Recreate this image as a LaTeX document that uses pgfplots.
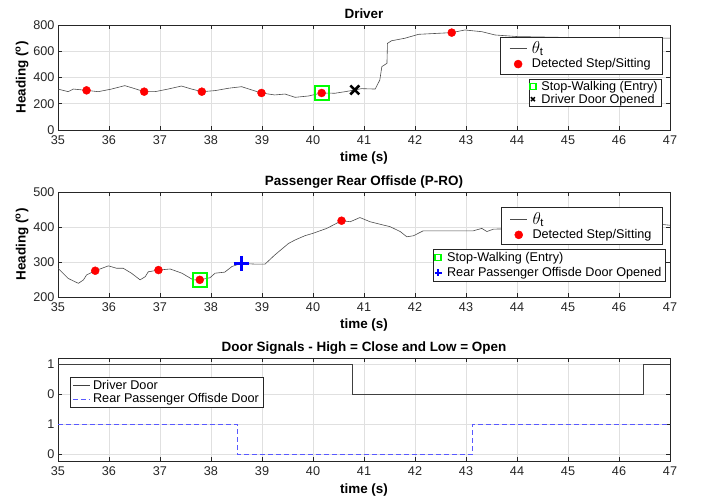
\documentclass[border=0pt]{standalone}
\usepackage{fontspec}
\setmainfont{Liberation Sans}
\usepackage{amsmath}
\usepackage{pgfplots}
\pgfplotsset{compat=1.18}
\definecolor{curve}{rgb}{0.3,0.3,0.3}
\definecolor{axcol}{rgb}{0.15,0.15,0.15}
\definecolor{gridcol}{rgb}{0.88,0.88,0.88}
\definecolor{mgreen}{rgb}{0,1,0}
\definecolor{dashblue}{rgb}{0.35,0.35,1}
\pgfplotsset{
  base/.style={
    scale only axis, width=612bp, height=105bp,
    anchor=south west,
    xmin=35, xmax=47, xtick={35,...,47},
    grid=major, major grid style={gridcol, line width=0.5bp},
    axis line style={axcol, line width=0.6bp},
    tick style={axcol, line width=0.6bp},
    major tick length=4bp,
    tick align=inside,
    tick label style={font=\fontsize{12.7}{14}\selectfont, color=axcol},
    /pgf/number format/assume math mode=true,
    xticklabel style={yshift=-2bp},
    label style={font=\bfseries\fontsize{13.5}{15}\selectfont},
    title style={font=\bfseries\fontsize{13.5}{15}\selectfont, at={(0.5,1)}, anchor=base, yshift=1bp},
    xlabel={time (s)},
    xlabel style={at={(axis description cs:0.5,0)}, anchor=base, yshift=-32bp},
    ylabel style={at={(axis description cs:-0.0588,0.5)}, anchor=center},
    legend style={font=\fontsize{12.7}{14}\selectfont, draw=axcol, line width=0.5bp, fill=white},
    legend cell align=left,
  },
  leg1/.style={legend style={inner xsep=9bp, inner ysep=2.5bp, nodes={inner xsep=2bp, inner ysep=2bp},
     /tikz/column 1/.style={column sep=3bp}}},
  leg2/.style={legend style={inner xsep=1bp, inner ysep=1bp, nodes={inner xsep=2.5bp, inner ysep=#1},
     /tikz/column 1/.style={column sep=3bp}}},
  sqleg/.style={legend image code/.code={\draw[##1, mark size=3bp, line width=1.2bp] plot coordinates {(0bp,0bp)};}},
  xleg/.style={legend image code/.code={\draw[##1, mark size=2.8bp, line width=1.5bp] plot coordinates {(0bp,0bp)};}},
  pleg/.style={legend image code/.code={\draw[##1, mark size=3.5bp, line width=1.5bp] plot coordinates {(0bp,0bp)};}},
}
\newcommand{\thetat}{{\fontsize{16}{16}\selectfont$\theta_{\text{t}}$}}
\begin{document}
\begin{tikzpicture}
\path[use as bounding box] (0,0) rectangle (702bp,502bp);
% ---------------- Driver ----------------
\begin{axis}[base, leg1, at={(58bp,372bp)}, ymin=0, ymax=800, ytick={0,200,400,600,800},
  title={Driver}, ylabel={Heading (\textsuperscript{o})},
  legend style={at={(0.987,0.89)}, anchor=north east}]
\addplot[curve, line width=0.6bp] coordinates {
(35,312) (35.2,292) (35.3,312) (35.56,302) (35.79,292) (36.05,312) (36.31,338) (36.48,318)
(36.69,292) (36.9,292) (37.16,312) (37.42,335) (37.62,312) (37.82,292) (38.08,300) (38.34,318)
(38.6,330) (38.8,305) (38.99,282) (39.25,267) (39.45,274) (39.65,249) (39.91,259) (40.17,282)
(40.43,280) (40.63,292) (40.82,305) (40.95,315) (41.22,312) (41.31,381) (41.35,483) (41.45,508)
(41.46,660) (41.54,680) (41.8,699) (42.07,729) (42.72,742) (42.98,762) (43.31,749) (43.57,724)
(44,712) (45,705) (46,700) (47,700)};
\addlegendentry{\thetat}
\addplot[only marks, mark=*, mark size=4bp, red, mark options={fill=red, draw=red}] coordinates {
(35.56,302) (36.69,292) (37.82,292) (38.99,282) (40.17,282) (42.72,742)};
\addlegendentry{Detected Step/Sitting}
\end{axis}
\begin{axis}[base, leg2=1bp, hide axis, at={(58bp,372bp)}, ymin=0, ymax=800,
  legend style={at={(0.986,0.486)}, anchor=north east}]
\addplot[only marks, mark=square, mark size=7bp, mgreen, line width=2bp, sqleg]
  coordinates {(40.17,282)};
\addlegendentry{Stop-Walking (Entry)}
\addplot[only marks, mark=x, mark size=6.3bp, black, line width=2.6bp, xleg]
  coordinates {(40.82,305)};
\addlegendentry{Driver Door Opened}
\end{axis}
% ---------------- P-RO ----------------
\begin{axis}[base, leg1, at={(58bp,205bp)}, ymin=200, ymax=500, ytick={200,300,400,500},
  title={Passenger Rear Offisde (P-RO)}, ylabel={Heading (\textsuperscript{o})},
  legend style={at={(0.988,0.854)}, anchor=north east}]
\addplot[curve, line width=0.6bp] coordinates {
(35,282) (35.2,253) (35.4,239) (35.5,249) (35.56,263) (35.73,275) (35.99,289) (36.15,282)
(36.28,282) (36.44,268) (36.61,249) (36.71,258) (36.77,272) (36.97,277) (37.2,280) (37.43,268)
(37.65,249) (37.78,249) (37.98,255) (38.08,268) (38.27,271) (38.41,287) (38.59,296) (38.86,294)
(39.06,294) (39.25,320) (39.52,353) (39.65,363) (39.84,375) (40,382) (40.27,396) (40.56,418)
(40.73,415) (40.92,427) (41.12,415) (41.31,408) (41.51,401) (41.71,387) (41.84,372) (41.97,375)
(42.16,389) (42.49,389) (43.14,389) (43.31,396) (43.41,387) (43.54,394) (44,395) (45,398)
(46,400) (46.8,408) (47,405)};
\addlegendentry{\thetat}
\addplot[only marks, mark=*, mark size=4bp, red, mark options={fill=red, draw=red}] coordinates {
(35.73,275) (36.97,277) (37.78,249) (40.56,418)};
\addlegendentry{Detected Step/Sitting}
\end{axis}
\begin{axis}[base, leg2=2.2bp, hide axis, at={(58bp,205bp)}, ymin=200, ymax=500,
  legend style={at={(0.992,0.457)}, anchor=north east}]
\addplot[only marks, mark=square, mark size=7bp, mgreen, line width=2bp, sqleg]
  coordinates {(37.78,249)};
\addlegendentry{Stop-Walking (Entry)}
\addplot[only marks, mark=+, mark size=7.5bp, blue, line width=3bp, pleg]
  coordinates {(38.59,296)};
\addlegendentry{Rear Passenger Offisde Door Opened}
\end{axis}
% ---------------- Door signals ----------------
\begin{axis}[base, at={(58bp,41bp)}, height=103bp, ymin=-0.23, ymax=3.2,
  ytick={0,1,2,3}, yticklabels={0,1,0,1},
  title={Door Signals - High = Close and Low = Open},
  legend style={at={(0.02,0.818)}, anchor=north west, inner xsep=2bp, inner ysep=1.5bp,
    nodes={inner xsep=2bp, inner ysep=1.5bp}, /tikz/column 1/.style={column sep=1bp}}]
\addplot[const plot, black!75, line width=0.6bp, y filter/.expression={y+2}] coordinates {
(35,1) (40.77,0) (46.47,1) (47,1)};
\addlegendentry{Driver Door}
\addplot[const plot, dashblue, dash pattern=on 5bp off 3bp, line width=0.6bp] coordinates {
(35,1) (38.51,0) (43.13,1) (47,1)};
\addlegendentry{Rear Passenger Offisde Door}
\end{axis}
\end{tikzpicture}
\end{document}
